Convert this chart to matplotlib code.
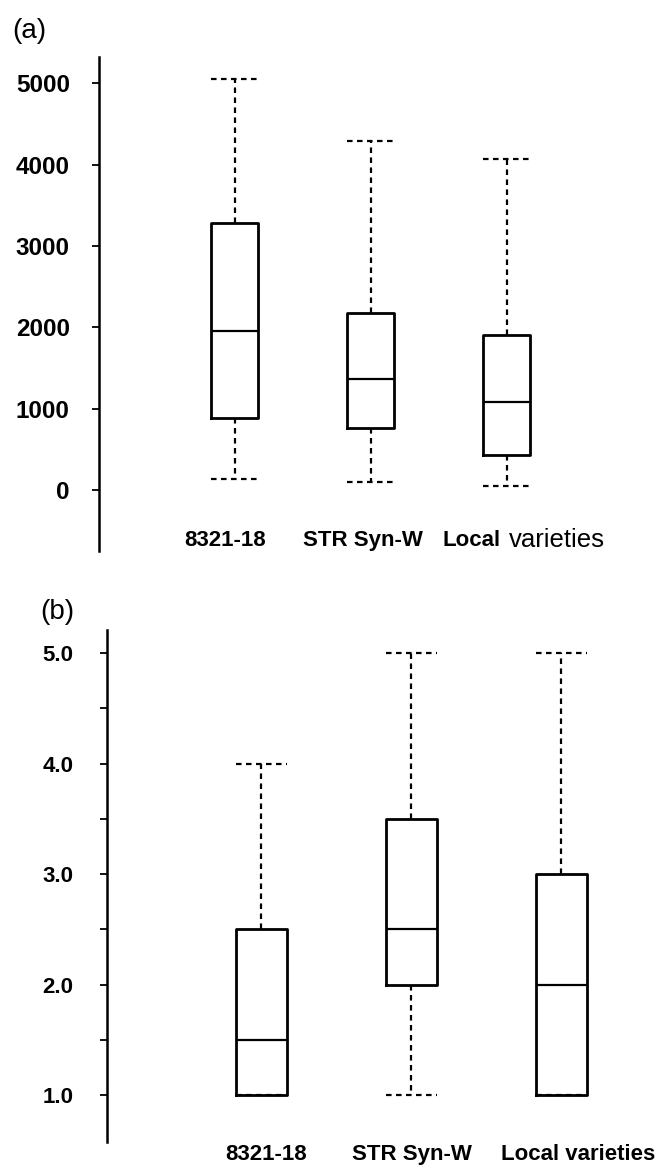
import matplotlib
matplotlib.use("Agg")
import matplotlib.pyplot as plt

plt.rcParams['font.family'] = ['Liberation Sans', 'DejaVu Sans']

# panel (a)
names_a = ["8321-18", "STR Syn-W", "Local varieties"]
low_a = [140, 100, 45]
q1_a = [880, 760, 430]
med_a = [1950, 1370, 1080]
q3_a = [3280, 2180, 1900]
high_a = [5050, 4290, 4070]
yticks_a = [0, 1000, 2000, 3000, 4000, 5000]

# panel (b)
names_b = ["8321-18", "STR Syn-W", "Local varieties"]
low_b = [1.0, 1.0, 1.0]
q1_b = [1.0, 2.0, 1.0]
med_b = [1.5, 2.5, 2.0]
q3_b = [2.5, 3.5, 3.0]
high_b = [4.0, 5.0, 5.0]
yticks_b = [1.0, 2.0, 3.0, 4.0, 5.0]
yminor_b = [1.5, 2.5, 3.5, 4.5]


def make_stats(names, low, q1, med, q3, high):
    stats = []
    for i in range(len(names)):
        stats.append({'label': names[i], 'whislo': low[i], 'q1': q1[i],
                      'med': med[i], 'q3': q3[i], 'whishi': high[i],
                      'fliers': []})
    return stats


def draw_boxes(ax, stats, width):
    dash = (0, (2.5, 2.0))
    ax.bxp(stats, positions=[1, 2, 3], widths=width, capwidths=width,
           showfliers=False,
           boxprops=dict(color='black', linewidth=2.0),
           medianprops=dict(color='black', linewidth=1.6),
           whiskerprops=dict(color='black', linewidth=1.6, linestyle=dash),
           capprops=dict(color='black', linewidth=1.6, linestyle=dash))


def style_axis(ax, size, pad):
    for s in ['top', 'right', 'bottom']:
        ax.spines[s].set_visible(False)
    ax.spines['left'].set_linewidth(1.8)
    ax.tick_params(axis='x', bottom=False, labelbottom=False)
    ax.tick_params(axis='y', which='both', direction='out', length=5,
                   width=1.3, pad=pad, labelsize=size)
    for lab in ax.get_yticklabels():
        lab.set_fontweight('bold')


fig = plt.figure(figsize=(6.56, 11.69), dpi=100)

# ---- (a)
ax1 = fig.add_axes([0.1509, 0.5287, 0.8491, 0.4222])
draw_boxes(ax1, make_stats(names_a, low_a, q1_a, med_a, q3_a, high_a), 0.345)
ax1.set_xlim(0, 4.1)
ax1.set_ylim(-750, 5318)
ax1.set_yticks(yticks_a)
ax1.set_yticklabels([str(v) for v in yticks_a])
style_axis(ax1, 17.5, 16)
tr = ax1.get_xaxis_transform()
ax1.text(0.93, 0.022, names_a[0], transform=tr, ha='center', va='center',
         fontsize=16, fontweight='bold')
ax1.text(1.945, 0.022, names_a[1], transform=tr, ha='center', va='center',
         fontsize=16, fontweight='bold')
ax1.text(2.53, 0.022, "Local", transform=tr, ha='left', va='center',
         fontsize=16, fontweight='bold')
ax1.text(3.02, 0.022, "varieties", transform=tr, ha='left', va='center',
         fontsize=18.5)
fig.text(12 / 656, 1 - 31 / 1169, "(a)", ha='left', va='center', fontsize=20)

# ---- (b)
ax2 = fig.add_axes([0.1631, 0.0231, 0.8369, 0.4380])
draw_boxes(ax2, make_stats(names_b, low_b, q1_b, med_b, q3_b, high_b), 0.34)
ax2.set_xlim(-0.027, 3.63)
ax2.set_ylim(0.576, 5.21)
ax2.set_yticks(yticks_b)
ax2.set_yticklabels(["%.1f" % v for v in yticks_b])
ax2.set_yticks(yminor_b, minor=True)
style_axis(ax2, 16, 19)
tr = ax2.get_xaxis_transform()
label_x_b = [1.03, 2.007, 3.11]
for i in range(len(names_b)):
    ax2.text(label_x_b[i], -0.025, names_b[i], transform=tr, ha='center',
             va='center', fontsize=16, fontweight='bold', clip_on=False)
fig.text(40 / 656, 1 - 612 / 1169, "(b)", ha='left', va='center', fontsize=20)

fig.savefig("out.png", dpi=100)
